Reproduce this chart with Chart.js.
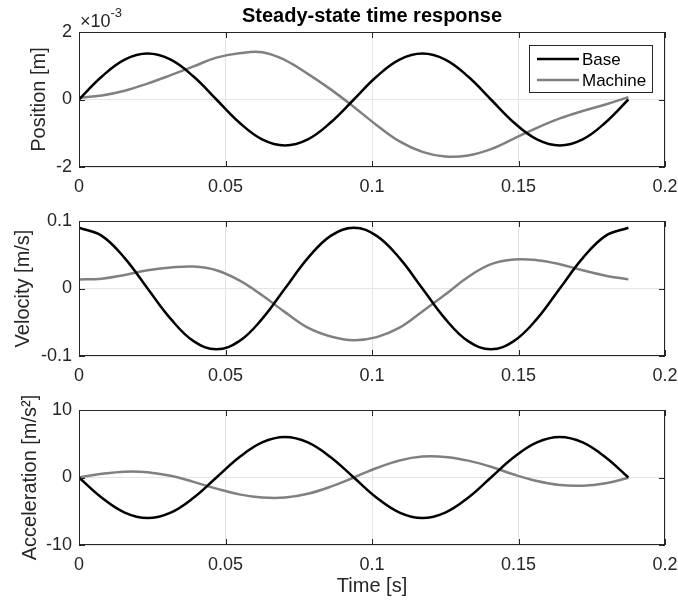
<!DOCTYPE html>
<html>
<head>
<meta charset="utf-8">
<script src="https://cdn.jsdelivr.net/npm/chart.js@4.4.1/dist/chart.umd.min.js"></script>
<style>
  body { margin: 0; background: #fff; }
  .panel { position: absolute; left: 0; width: 678px; }
</style>
</head>
<body>
<div class="panel" style="top:0;height:200px"><canvas id="pos"></canvas></div>
<div class="panel" style="top:200px;height:190px"><canvas id="vel"></canvas></div>
<div class="panel" style="top:390px;height:215px"><canvas id="acc"></canvas></div>

<script>
// time samples [s]
const time = [0, 0.0078, 0.0156, 0.0234, 0.0313, 0.0391, 0.0469, 0.0547, 0.0625, 0.0703,
              0.0781, 0.0859, 0.0938, 0.1016, 0.1094, 0.1172, 0.125, 0.1328, 0.1406, 0.1484,
              0.1563, 0.1641, 0.1719, 0.1797, 0.1875];

// position, in units of 1e-3 m
const posBase = [0, 0.68, 1.18, 1.36, 1.18, 0.68, 0, -0.68, -1.18, -1.36, -1.18, -0.68, 0,
                 0.68, 1.18, 1.36, 1.18, 0.68, 0, -0.68, -1.18, -1.36, -1.18, -0.68, 0];
const posMachine = [0.05, 0.12, 0.26, 0.47, 0.72, 0.98, 1.24, 1.37, 1.40, 1.17, 0.76, 0.30, -0.22,
                    -0.76, -1.24, -1.55, -1.69, -1.66, -1.47, -1.16, -0.84, -0.56, -0.34, -0.15, 0.07];

// velocity [m/s]
const velBase = [0.09, 0.078, 0.045, 0, -0.045, -0.078, -0.09, -0.078, -0.045, 0, 0.045, 0.078, 0.09,
                 0.078, 0.045, 0, -0.045, -0.078, -0.09, -0.078, -0.045, 0, 0.045, 0.078, 0.09];
const velMachine = [0.0135, 0.0145, 0.02, 0.027, 0.031, 0.0325, 0.027, 0.012, -0.01, -0.035, -0.058,
                    -0.071, -0.0765, -0.072, -0.058, -0.034, -0.009, 0.017, 0.036, 0.043, 0.042,
                    0.036, 0.027, 0.019, 0.0135];

// acceleration [m/s^2]
const accBase = [0, -3, -5.2, -6, -5.2, -3, 0, 3, 5.2, 6, 5.2, 3, 0,
                 -3, -5.2, -6, -5.2, -3, 0, 3, 5.2, 6, 5.2, 3, 0];
const accMachine = [0, 0.55, 0.87, 0.79, 0.25, -0.65, -1.65, -2.5, -2.97, -2.98, -2.41, -1.36, 0,
                    1.41, 2.53, 3.1, 3.05, 2.5, 1.6, 0.44, -0.53, -1.12, -1.22, -0.85, -0.05];

const seriesNames = ['Base', 'Machine'];
const seriesColors = ['#000000', '#808080'];
const xTicks = { min: 0, max: 0.2, step: 0.05 };

const axisColor = '#262626';
const gridColor = '#e4e4e4';
Chart.defaults.font.family = '"Liberation Sans", Arial, Helvetica, sans-serif';
Chart.defaults.color = axisColor;

function pts(vals) {
  return vals.map((v, i) => ({ x: time[i], y: v }));
}

// plain tick text: 0.1 not 0.10
function plain(v) {
  return String(Number(v.toFixed(4)));
}

// box around the axes with inward tick marks, like matlab
const framePlugin = {
  id: 'frame',
  afterDatasetsDraw(chart) {
    const { ctx, chartArea: a, scales: { x, y } } = chart;
    ctx.save();
    ctx.strokeStyle = axisColor;
    ctx.lineWidth = 1;
    ctx.beginPath();
    x.ticks.forEach(t => {
      const px = Math.round(x.getPixelForValue(t.value)) + 0.5;
      ctx.moveTo(px, a.bottom); ctx.lineTo(px, a.bottom - 6);
      ctx.moveTo(px, a.top); ctx.lineTo(px, a.top + 6);
    });
    y.ticks.forEach(t => {
      const py = Math.round(y.getPixelForValue(t.value)) + 0.5;
      ctx.moveTo(a.left, py); ctx.lineTo(a.left + 6, py);
      ctx.moveTo(a.right, py); ctx.lineTo(a.right - 6, py);
    });
    ctx.stroke();
    ctx.strokeRect(a.left + 0.5, a.top + 0.5, a.right - a.left - 1, a.bottom - a.top - 1);
    ctx.restore();
  }
};

// legend box inside the top right corner
const boxLegend = {
  id: 'boxLegend',
  afterDraw(chart, args, opts) {
    if (!opts.show) return;
    const { ctx, chartArea: a } = chart;
    const w = 123, h = 47;
    const left = a.right - 13 - w, top = a.top + 13;
    ctx.save();
    ctx.fillStyle = '#fff';
    ctx.fillRect(left, top, w, h);
    ctx.strokeStyle = axisColor;
    ctx.lineWidth = 1;
    ctx.strokeRect(left + 0.5, top + 0.5, w, h);
    ctx.font = '17px "Liberation Sans", Arial, sans-serif';
    ctx.textBaseline = 'middle';
    chart.data.datasets.forEach((ds, i) => {
      const yy = top + 14 + i * 21;
      ctx.strokeStyle = ds.borderColor;
      ctx.lineWidth = 2.5;
      ctx.beginPath();
      ctx.moveTo(left + 8, yy); ctx.lineTo(left + 50, yy);
      ctx.stroke();
      ctx.fillStyle = '#000';
      ctx.fillText(ds.label, left + 53, yy + 1);
    });
    ctx.restore();
  }
};

// "x10^-3" exponent label above the top axes
const expLabel = {
  id: 'expLabel',
  afterDraw(chart, args, opts) {
    if (!opts.text) return;
    const { ctx, chartArea: a } = chart;
    ctx.save();
    ctx.fillStyle = axisColor;
    ctx.textBaseline = 'alphabetic';
    ctx.font = '18px "Liberation Sans", Arial, sans-serif';
    ctx.fillText('\u00d710', a.left + 1, a.top - 5);
    const w = ctx.measureText('\u00d710').width;
    ctx.font = '13px "Liberation Sans", Arial, sans-serif';
    ctx.fillText(opts.text, a.left + 1 + w, a.top - 15);
    ctx.restore();
  }
};

function makeChart(id, cfg) {
  return new Chart(document.getElementById(id), {
    type: 'line',
    data: {
      datasets: [
        { label: seriesNames[0], data: pts(cfg.base), borderColor: seriesColors[0] },
        { label: seriesNames[1], data: pts(cfg.machine), borderColor: seriesColors[1] }
      ]
    },
    options: {
      responsive: true,
      maintainAspectRatio: false,
      animation: false,
      parsing: false,
      elements: {
        point: { radius: 0 },
        line: { borderWidth: 2.5, tension: 0.4, fill: false }
      },
      layout: { padding: { left: 0, right: 13, top: cfg.padTop, bottom: 0 } },
      scales: {
        x: {
          type: 'linear',
          min: xTicks.min, max: xTicks.max,
          ticks: { stepSize: xTicks.step, font: { size: 18 }, padding: 9, maxRotation: 0, color: axisColor,
                   callback: plain },
          grid: { color: gridColor, drawTicks: false },
          border: { display: false },
          title: cfg.xTitle ? { display: true, text: cfg.xTitle, font: { size: 20 }, color: axisColor,
                                padding: { top: 0, bottom: 7 } } : { display: false },
          afterFit(s) {
            s.height = cfg.xHeight;
            s.paddingLeft = 0;
            s.paddingRight = 0;
          }
        },
        y: {
          min: cfg.yMin, max: cfg.yMax,
          ticks: { stepSize: cfg.yStep, font: { size: 18 }, padding: 7, color: axisColor, callback: plain },
          grid: { color: gridColor, drawTicks: false },
          border: { display: false },
          title: { display: true, text: cfg.yTitle, font: { size: 20 }, color: axisColor,
                   padding: { top: cfg.yTitlePad, bottom: 0 } },
          afterFit(s) { s.width = 79; }
        }
      },
      plugins: {
        legend: { display: false },
        tooltip: { enabled: false },
        title: cfg.title ? { display: true, text: cfg.title, fullSize: false, color: '#000',
                             font: { size: 20, weight: 'bold' }, padding: { top: 4, bottom: 4 } }
                         : { display: false },
        boxLegend: { show: !!cfg.legend },
        expLabel: { text: cfg.exponent || '' }
      }
    },
    plugins: [framePlugin, boxLegend, expLabel]
  });
}

makeChart('pos', {
  base: posBase, machine: posMachine,
  yMin: -2, yMax: 2, yStep: 2, yTitle: 'Position [m]', yTitlePad: 27,
  title: 'Steady-state time response', legend: true, exponent: '-3',
  padTop: 0, xHeight: 33
});

makeChart('vel', {
  base: velBase, machine: velMachine,
  yMin: -0.1, yMax: 0.1, yStep: 0.1, yTitle: 'Velocity [m/s]', yTitlePad: 11,
  padTop: 21, xHeight: 34
});

makeChart('acc', {
  base: accBase, machine: accMachine,
  yMin: -10, yMax: 10, yStep: 10, yTitle: 'Acceleration [m/s\u00b2]', yTitlePad: 18,
  padTop: 20, xHeight: 60, xTitle: 'Time [s]'
});
</script>
</body>
</html>
